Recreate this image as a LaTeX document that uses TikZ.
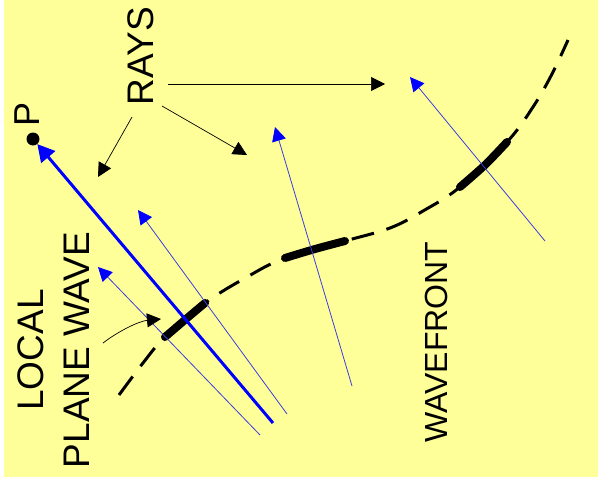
\documentclass[tikz,border=0pt]{standalone}
\usepackage{fontspec}
\setmainfont{Liberation Sans}
\usetikzlibrary{arrows.meta,positioning}
\definecolor{paper}{RGB}{255,255,153}
\definecolor{rayblue}{RGB}{0,0,255}
\definecolor{thinblue}{RGB}{60,60,225}

\begin{document}
\begin{tikzpicture}[x=1pt, y=-1pt,
  ray/.style={thinblue, line width=0.8pt, -{Triangle[length=14pt, width=14pt, color=rayblue]}},
  mainray/.style={rayblue, line width=3pt, -{Triangle[length=17pt, width=18pt]}},
  pointer/.style={black, line width=0.7pt, -{Triangle[length=14pt, width=14pt]}},
  wavefront/.style={line width=3pt, dash pattern=on 23pt off 13pt},
  patch/.style={line width=8pt, line cap=round},
  word/.style={rotate=90, inner sep=0pt, align=center, font=\fontsize{37}{46}\selectfont},
  dot/.style={circle, fill=black, inner sep=0pt, minimum size=13pt}
]
  \useasboundingbox (0,0) rectangle (598,490);
  \fill[paper] (4,0) rectangle (598,477);

  % --- labels ---
  \node[word] (rays) at (141,56) {RAYS};
  \node[word, font=\fontsize{36}{40}\selectfont] (pname) at (27,114) {P};
  \node[word] (lpw) at (53.5,350) {LOCAL\\PLANE WAVE};
  \node[word, font=\fontsize{32}{36}\selectfont] (wflabel) at (436,342) {WAVEFRONT};

  % --- wavefront ---
  \draw[wavefront] plot[smooth, tension=0.6] coordinates {(119,395) (143,363) (165,337)
    (205,303) (247,277) (285,258) (345,241) (390,228) (423,211) (460,187)
    (507,142) (533,107) (552,74) (568,40)};
  \draw[patch] plot[smooth] coordinates {(165,337) (186,319) (205,303)};
  \draw[patch] plot[smooth] coordinates {(285,258) (315,249) (345,241)};
  \draw[patch] plot[smooth] coordinates {(460,187) (485,165) (507,142)};

  % --- rays ---
  \coordinate (footA) at (260,435); \coordinate (tipA) at (98,267);
  \coordinate (footB) at (287,414); \coordinate (tipB) at (138,210);
  \coordinate (footC) at (352,386); \coordinate (tipC) at (275,127);
  \coordinate (footD) at (545,241); \coordinate (tipD) at (410,77);
  \foreach \r in {A,B,C,D}
    \draw[ray] (foot\r) -- (tip\r);

  \node[dot] (pdot) at (33,139) {};
  \coordinate (footmain) at (273,423);
  \draw[mainray] (footmain) -- (pdot);

  % --- pointers ---
  \coordinate (ptrA) at (385,84);
  \coordinate (ptrB) at (247,155);
  \coordinate (ptrC) at (98,177);
  \draw[pointer] ([shift={(27,28)}]rays.center) -- (ptrA);
  \draw[pointer] ([shift={(21,50)}]rays.center) -- (ptrB);
  \draw[pointer] ([shift={(-9,61)}]rays.center) -- (ptrC);

  \coordinate (patchtip) at (161,319);
  \draw[pointer] ([shift={(49.5,-7)}]lpw.center) .. controls (120,330) and (140,321) .. (patchtip);
\end{tikzpicture}
\end{document}
